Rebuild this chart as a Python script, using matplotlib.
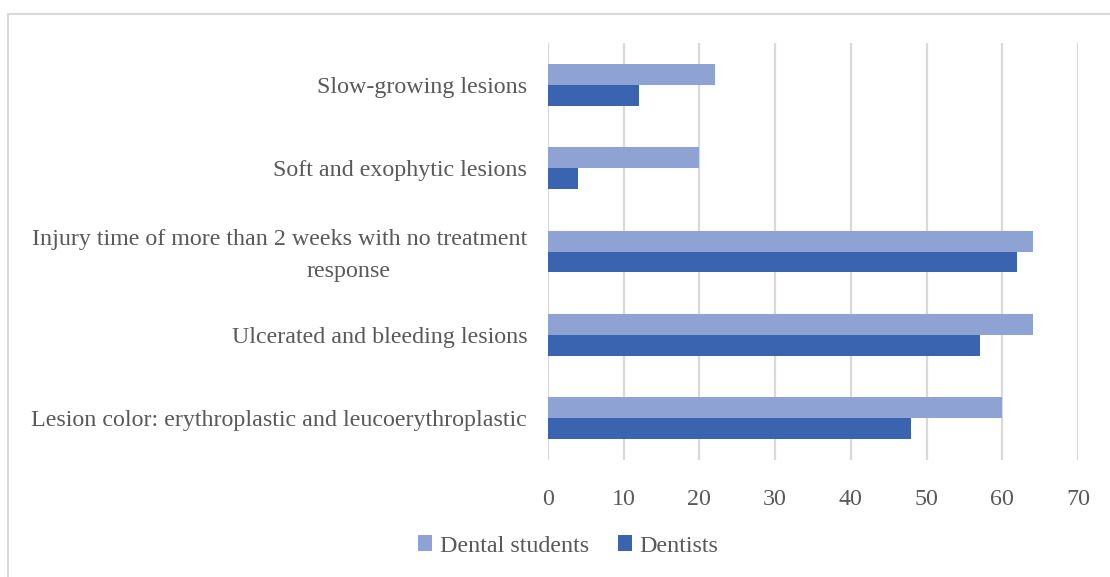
import matplotlib
matplotlib.use("Agg")
import matplotlib.pyplot as plt
from matplotlib.patches import Rectangle
from matplotlib.transforms import blended_transform_factory, ScaledTranslation
import numpy as np

# Criteria listed from bottom to top of the chart
categories = [
    "Lesion color: erythroplastic and leucoerythroplastic",
    "Ulcerated and bleeding lesions",
    "Injury time of more than 2 weeks with no treatment response",
    "Soft and exophytic lesions",
    "Slow-growing lesions",
]
dental_students = [60, 64, 64, 20, 22]
dentists = [48, 57, 62, 4, 12]
x_ticks = [0, 10, 20, 30, 40, 50, 60, 70]
series_labels = ["Dental students", "Dentists"]

COLOR_STUDENTS = "#8FA2D4"
COLOR_DENTISTS = "#3A64AF"
TEXT_COLOR = "#595959"
GRID_COLOR = "#D9D9D9"
FONT = ["Liberation Serif", "DejaVu Serif"]
FS = 17.3

plt.rcParams["font.family"] = FONT

W, H = 1110, 577
fig = plt.figure(figsize=(W / 100, H / 100), dpi=100)
fig.patch.set_facecolor("white")

# Outer chart frame
fig.patches.append(Rectangle((8 / W, -0.05), 1.2, 1 - 13.5 / H + 0.05,
                             transform=fig.transFigure, fill=False,
                             edgecolor="#D9D9D9", linewidth=1.5, zorder=0))

ax = fig.add_axes([548 / W, 1 - 460 / H, (1078 - 548) / W, (460 - 43) / H])

y = np.arange(len(categories))
h = 0.25
ax.barh(y + h / 2, dental_students, height=h, color=COLOR_STUDENTS,
        label=series_labels[0], zorder=3)
ax.barh(y - h / 2, dentists, height=h, color=COLOR_DENTISTS,
        label=series_labels[1], zorder=3)

ax.set_xlim(0, 70)
ax.set_ylim(-0.5, len(categories) - 0.5)
ax.set_xticks(x_ticks)
ax.set_xticklabels([str(t) for t in x_ticks])
ax.xaxis.grid(True, color=GRID_COLOR, linewidth=1.6, zorder=0)
ax.set_axisbelow(True)
for s in ax.spines.values():
    s.set_visible(False)

ax.tick_params(axis="x", length=0, pad=21, labelsize=FS, labelcolor=TEXT_COLOR)
ax.tick_params(axis="y", length=0, pad=15, labelsize=FS, labelcolor=TEXT_COLOR)

# Long labels wrap onto a second line
ax.set_yticks(y)
wrapped = {"Injury time of more than 2 weeks with no treatment response":
           ("Injury time of more than 2 weeks with no treatment", "response")}
ax.set_yticklabels(["" if c in wrapped else c for c in categories])

tr = blended_transform_factory(ax.transAxes, ax.transData)
for i, c in enumerate(categories):
    if c in wrapped:
        first, second = wrapped[c]
        ax.text(-21 / 530, i, first,
                transform=tr + ScaledTranslation(0, 0.15, fig.dpi_scale_trans),
                ha="right", va="center_baseline", fontsize=FS, color=TEXT_COLOR)
        ax.text(-199 / 530, i, second,
                transform=tr + ScaledTranslation(0, -0.17, fig.dpi_scale_trans),
                ha="center", va="center_baseline", fontsize=FS, color=TEXT_COLOR)

fig.legend(loc="center", bbox_to_anchor=(568 / W, 1 - 546 / H), ncol=2,
           frameon=False, fontsize=FS, labelcolor=TEXT_COLOR,
           handlelength=0.6, handleheight=0.6, handletextpad=0.3,
           columnspacing=1.2)

fig.savefig("out.png", dpi=100, facecolor="white")
